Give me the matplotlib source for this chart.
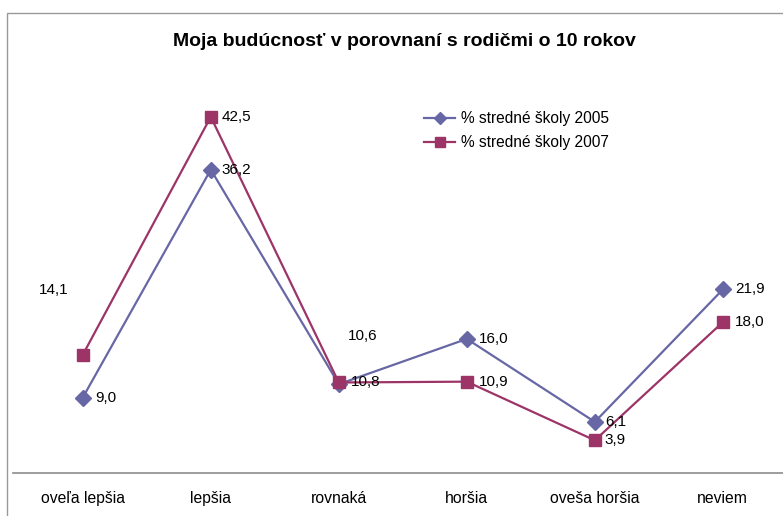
import matplotlib
matplotlib.use("Agg")
import matplotlib.pyplot as plt
from matplotlib.patches import Rectangle

plt.rcParams['font.family'] = ['Liberation Sans', 'DejaVu Sans']

categories = ['oveľa lepšia', 'lepšia', 'rovnaká', 'horšia', 'oveša horšia', 'neviem']
vals_2005 = [9.0, 36.2, 10.6, 16.0, 6.1, 21.9]
vals_2007 = [14.1, 42.5, 10.8, 10.9, 3.9, 18.0]
name_2005 = '% stredné školy 2005'
name_2007 = '% stredné školy 2007'

col_2005 = '#6767A6'
col_2007 = '#9C3467'

fig = plt.figure(figsize=(7.83, 5.16), dpi=100)
fig.patches.append(Rectangle((7 / 783, -0.1), 1.2, 1.1 - 13 / 516,
                             transform=fig.transFigure, fill=False,
                             edgecolor='#9a9a9a', linewidth=1.0))

ax = fig.add_axes([13 / 783, 43 / 516, 1 - 13 / 783, 419 / 516])
x = list(range(len(categories)))

ax.plot(x, vals_2005, color=col_2005, lw=1.6, marker='D', ms=8, label=name_2005)
ax.plot(x, vals_2007, color=col_2007, lw=1.6, marker='s', ms=8.5, label=name_2007)

def fmt(v):
    return f'{v:.1f}'.replace('.', ',')

# labels: mostly right of the point; a couple shifted as in the original
offsets_2005 = [(12, 0), (11, 0), (9, 48), (12, 0), (10, 0), (12, 0)]
offsets_2007 = [(-44, 65), (11, 0), (12, 0), (12, 0), (10, 0), (12, 0)]
for xi, v, off in zip(x, vals_2005, offsets_2005):
    ax.annotate(fmt(v), (xi, v), xytext=off, textcoords='offset pixels',
                ha='left', va='center', fontsize=11)
for xi, v, off in zip(x, vals_2007, offsets_2007):
    ax.annotate(fmt(v), (xi, v), xytext=off, textcoords='offset pixels',
                ha='left', va='center', fontsize=11)

ax.set_xlim(-0.545, 5.47)
ax.set_ylim(0, 50)
ax.set_xticks(x)
ax.set_xticklabels(categories, fontsize=11.3)
ax.tick_params(axis='x', length=0, pad=13)
ax.set_yticks([])
for s in ['top', 'right', 'left']:
    ax.spines[s].set_visible(False)
ax.spines['bottom'].set_color('#8c8c8c')
ax.spines['bottom'].set_linewidth(1.2)
ax.patch.set_alpha(0)

fig.text(404 / 783, 1 - 41 / 516, 'Moja budúcnosť v porovnaní s rodičmi o 10 rokov',
         ha='center', va='center', fontsize=14, fontweight='bold')

fig.legend(loc='upper left', bbox_to_anchor=(410 / 783, 1 - 97 / 516),
           frameon=False, fontsize=11.2, handlelength=2.0, handletextpad=0.4,
           labelspacing=0.6, markerscale=0.8)

fig.savefig('out.png', dpi=100)
